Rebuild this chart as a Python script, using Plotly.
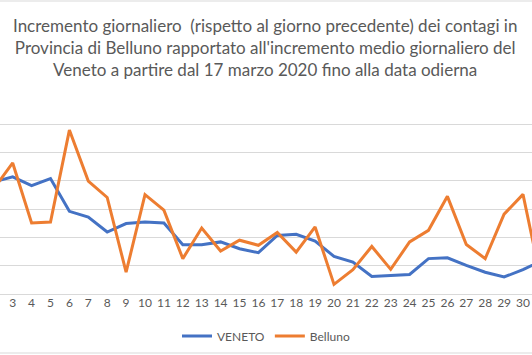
import plotly.graph_objects as go

days = list(range(2, 32))
veneto = [3.96, 4.14, 3.83, 4.08, 2.92, 2.72, 2.19, 2.49, 2.54, 2.51,
          1.74, 1.74, 1.84, 1.60, 1.46, 2.07, 2.11, 1.87, 1.33, 1.13,
          0.62, 0.66, 0.69, 1.25, 1.28, 1.01, 0.77, 0.60, 0.86, 1.18]
belluno = [3.72, 4.63, 2.51, 2.54, 5.79, 3.99, 3.41, 0.77, 3.51, 2.96,
           1.25, 2.33, 1.52, 1.90, 1.72, 2.17, 1.48, 2.37, 0.34, 0.86,
           1.68, 0.87, 1.84, 2.25, 3.45, 1.75, 1.25, 2.82, 3.52, 0.34]
tick_days = list(range(3, 31))
tick_labels = [str(d) for d in tick_days]
title_text = ("Incremento giornaliero  (rispetto al giorno precedente) dei contagi in<br>"
              "Provincia di Belluno rapportato all'incremento medio giornaliero del<br>"
              "Veneto a partire dal 17 marzo 2020 fino alla data odierna")

FONT = "Lato"
GRAY = "#595959"
GRID = "#d9d9d9"

fig = go.Figure()
fig.add_trace(go.Scatter(x=days, y=veneto, mode="lines", name="VENETO",
                         line=dict(color="#4472C4", width=3)))
fig.add_trace(go.Scatter(x=days, y=belluno, mode="lines", name="Belluno",
                         line=dict(color="#ED7D31", width=3)))

W, H = 532, 355
top, bottom = 95, 294
ph = bottom - top
fig.update_layout(
    width=W, height=H,
    margin=dict(l=0, r=0, t=top, b=H - bottom),
    paper_bgcolor="white", plot_bgcolor="white",
    font=dict(family=FONT, color=GRAY, size=12),
    showlegend=True,
    legend=dict(orientation="h", x=0.5, xanchor="center",
                y=(bottom - 336) / ph, yanchor="middle",
                font=dict(family=FONT, size=12, color=GRAY)),
    xaxis=dict(range=[2.328, 30.476], tickmode="array", tickvals=tick_days,
               ticktext=tick_labels, showgrid=False, zeroline=False,
               showline=False, ticks="", tickfont=dict(size=12, color=GRAY)),
    yaxis=dict(range=[0, 7.03], dtick=1, showgrid=True, gridcolor=GRID,
               gridwidth=1, zeroline=True, zerolinecolor=GRID, zerolinewidth=1,
               showticklabels=False, ticks="", showline=False),
)

fig.add_annotation(text=title_text, xref="paper", yref="paper",
                   x=265 / W, xanchor="center", y=(bottom - 13) / ph,
                   yanchor="top", showarrow=False, align="center",
                   font=dict(family=FONT, size=17, color=GRAY))

fig.add_shape(type="rect", xref="paper", yref="paper",
              x0=-0.01, x1=1.01,
              y0=(bottom - 353) / ph, y1=(bottom - 1) / ph,
              line=dict(color=GRID, width=1), layer="below")

fig.write_html("out.html", config={"displayModeBar": False},
               post_script="document.body.style.margin='0';document.body.style.padding='0';")
